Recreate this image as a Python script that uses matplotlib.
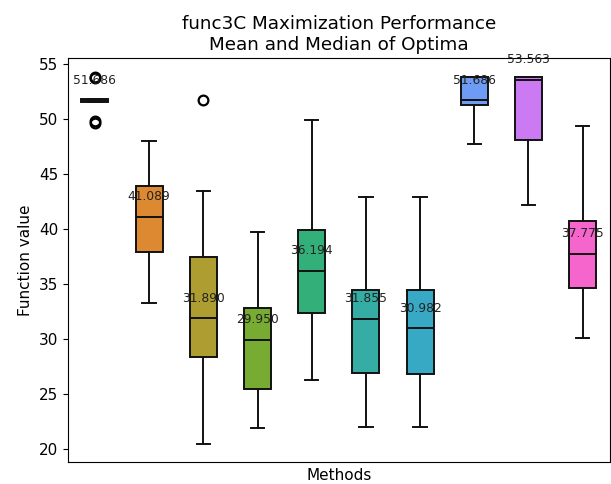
import matplotlib
matplotlib.use("Agg")
import matplotlib.pyplot as plt
import seaborn as sns

# box statistics (one entry per method)
medians = [51.686, 41.089, 31.890, 29.950, 36.194, 31.855, 30.982, 51.686, 53.563, 37.775]
q1 = [51.55, 37.96, 28.42, 25.50, 32.35, 26.97, 26.86, 51.26, 48.12, 34.67]
q3 = [51.85, 43.90, 37.47, 32.80, 39.95, 34.48, 34.48, 53.80, 53.80, 40.76]
whisker_low = [51.55, 33.31, 20.52, 21.90, 26.28, 22.03, 22.03, 47.76, 42.15, 30.09]
whisker_high = [51.85, 48.00, 43.51, 39.77, 49.87, 42.96, 42.96, 53.80, 53.80, 49.36]
outliers = [[53.85, 53.70, 49.80, 49.65], [], [51.74], [], [], [], [], [], [], []]


def main():
    colors = sns.color_palette("husl", len(medians))
    fig, ax = plt.subplots(figsize=(6.11, 4.84), dpi=100)
    plt.subplots_adjust(left=0.111, right=0.998, top=0.8795, bottom=0.0455)

    stats = []
    for i in range(len(medians)):
        stats.append({"med": medians[i], "q1": q1[i], "q3": q3[i],
                      "whislo": whisker_low[i], "whishi": whisker_high[i],
                      "fliers": outliers[i]})

    edge = "#111111"
    bp = ax.bxp(stats, positions=range(len(medians)), widths=0.5, patch_artist=True,
                boxprops=dict(edgecolor=edge, linewidth=1.4),
                medianprops=dict(color=edge, linewidth=1.4),
                whiskerprops=dict(color=edge, linewidth=1.4),
                capprops=dict(color=edge, linewidth=1.4),
                flierprops=dict(marker="o", markerfacecolor="none", markeredgecolor="black",
                                markersize=7, markeredgewidth=1.6))
    for patch, c in zip(bp["boxes"], colors):
        patch.set_facecolor(c)

    for i, m in enumerate(medians):
        ax.text(i, m + 1.85, "{:.3f}".format(m), ha="center", va="center",
                fontsize=8.8, color="#222222")

    ax.set_xlim(-0.5, len(medians) - 0.5)
    ax.set_xticks([])
    ax.tick_params(labelsize=11)
    ax.set_xlabel("Methods", fontsize=11)
    ax.set_ylabel("Function value", fontsize=11)
    ax.set_title("func3C Maximization Performance\nMean and Median of Optima", fontsize=13.2)
    plt.savefig("out.png")
    plt.close()


if __name__ == "__main__":
    main()
